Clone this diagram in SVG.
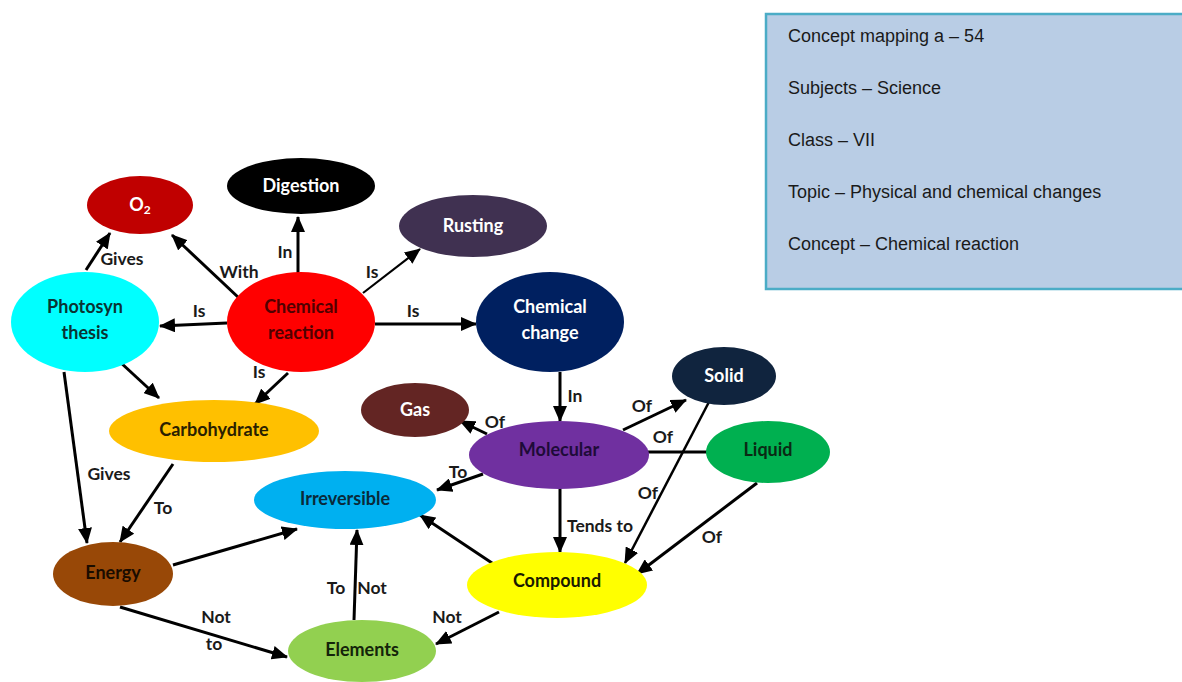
<svg xmlns="http://www.w3.org/2000/svg" width="1182" height="682" viewBox="0 0 1182 682">
<style>
.n{font-family:Lato,"Open Sans",sans-serif;font-weight:bold;font-size:18px;text-anchor:middle}
.w{fill:#ffffff}
.l{font-family:Lato,"Open Sans",sans-serif;font-weight:bold;font-size:17.5px;fill:#1a1a1a;text-anchor:middle}
.c{stroke:#000;stroke-width:3;fill:none}
.a{marker-end:url(#ah)}
.info{font-family:"Liberation Sans",Arial,sans-serif;font-size:18px;fill:#1a1a1a}
</style>
<defs>
<marker id="ah" markerUnits="userSpaceOnUse" viewBox="0 0 16 14" markerWidth="16" markerHeight="14" refX="15" refY="7" orient="auto">
<path d="M0,0 L16,7 L0,14 z" fill="#000"/>
</marker>
</defs>
<rect width="1182" height="682" fill="#ffffff"/>
<g id="infobox">
<rect x="766" y="14" width="430" height="275" fill="#b9cde5" stroke="#4bacc6" stroke-width="2.5"/>
<text class="info" x="788" y="42">Concept mapping a – 54</text>
<text class="info" x="788" y="94">Subjects – Science</text>
<text class="info" x="788" y="146">Class – VII</text>
<text class="info" x="788" y="198">Topic – Physical and chemical changes</text>
<text class="info" x="788" y="250">Concept – Chemical reaction</text>
</g>
<g id="connectors">
<line class="c a" x1="86" y1="270" x2="110" y2="233"/>
<line class="c a" x1="239" y1="298" x2="172" y2="235"/>
<line class="c a" x1="298" y1="273" x2="298" y2="217"/>
<line class="c a" x1="363" y1="293" x2="420" y2="249" style="stroke-width:2.2"/>
<line class="c a" x1="227" y1="323" x2="160" y2="326"/>
<line class="c a" x1="375" y1="324" x2="476" y2="324"/>
<line class="c a" x1="288" y1="373" x2="255" y2="404"/>
<line class="c a" x1="120" y1="362" x2="159" y2="398"/>
<line class="c a" x1="64" y1="372" x2="87" y2="543"/>
<line class="c a" x1="173" y1="464" x2="120" y2="542"/>
<line class="c a" x1="560" y1="372" x2="560" y2="421"/>
<line class="c a" x1="487" y1="434" x2="460" y2="421"/>
<line class="c a" x1="623" y1="430" x2="686" y2="400"/>
<line class="c" x1="646" y1="452" x2="711" y2="452"/>
<line class="c a" x1="483" y1="474" x2="437" y2="490"/>
<line class="c a" x1="560" y1="487" x2="560" y2="552"/>
<line class="c a" x1="710" y1="400" x2="625" y2="563" style="stroke-width:2.5"/>
<line class="c a" x1="757" y1="483" x2="637" y2="574"/>
<line class="c a" x1="495" y1="565" x2="420" y2="515"/>
<line class="c a" x1="499" y1="612" x2="436" y2="644"/>
<line class="c a" x1="354" y1="620" x2="357" y2="530"/>
<line class="c a" x1="173" y1="565" x2="297" y2="529"/>
<line class="c a" x1="120" y1="607" x2="287" y2="657"/>
</g>
<g id="connector-labels">
<text class="l" x="122" y="265">Gives</text>
<text class="l" x="239" y="278">With</text>
<text class="l" x="285" y="258">In</text>
<text class="l" x="372" y="278">Is</text>
<text class="l" x="199" y="317">Is</text>
<text class="l" x="413" y="317">Is</text>
<text class="l" x="259" y="378">Is</text>
<text class="l" x="109" y="480">Gives</text>
<text class="l" x="163" y="514">To</text>
<text class="l" x="575" y="402">In</text>
<text class="l" x="495" y="428">Of</text>
<text class="l" x="642" y="412">Of</text>
<text class="l" x="663" y="443">Of</text>
<text class="l" x="458" y="478">To</text>
<text class="l" x="600" y="532">Tends to</text>
<text class="l" x="648" y="499">Of</text>
<text class="l" x="712" y="543">Of</text>
<text class="l" x="447" y="623">Not</text>
<text class="l" x="336" y="594">To</text>
<text class="l" x="372" y="594">Not</text>
<text class="l" x="216" y="623">Not</text>
<text class="l" x="214" y="650">to</text>
</g>
<g id="o2"><ellipse cx="140" cy="205" rx="53" ry="29" fill="#c00000"/><text class="n w" x="140" y="211">O<tspan font-size="12" dy="3">2</tspan></text></g>
<g id="digestion"><ellipse cx="301" cy="186" rx="74" ry="28" fill="#000000"/><text class="n w" x="301" y="192">Digestion</text></g>
<g id="rusting"><ellipse cx="473" cy="226" rx="74" ry="31" fill="#403151"/><text class="n w" x="473" y="232">Rusting</text></g>
<g id="photosynthesis"><ellipse cx="85" cy="322" rx="74" ry="50" fill="#00ffff"/><text class="n" x="85" y="313" fill="#0a3434">Photosyn</text><text class="n" x="85" y="339" fill="#0a3434">thesis</text></g>
<g id="chemical-reaction"><ellipse cx="301" cy="322" rx="74" ry="50" fill="#ff0000"/><text class="n" x="301" y="313" fill="#500000">Chemical</text><text class="n" x="301" y="339" fill="#500000">reaction</text></g>
<g id="chemical-change"><ellipse cx="550" cy="322" rx="74" ry="50" fill="#002060"/><text class="n w" x="550" y="313">Chemical</text><text class="n w" x="550" y="339">change</text></g>
<g id="solid"><ellipse cx="724" cy="376" rx="52" ry="29" fill="#10243e"/><text class="n w" x="724" y="382">Solid</text></g>
<g id="gas"><ellipse cx="415" cy="410" rx="54" ry="27" fill="#632523"/><text class="n w" x="415" y="416">Gas</text></g>
<g id="carbohydrate"><ellipse cx="214" cy="431" rx="105" ry="31" fill="#ffc000"/><text class="n" x="214" y="436" fill="#2a2000">Carbohydrate</text></g>
<g id="molecular"><ellipse cx="559" cy="455" rx="90" ry="34" fill="#7030a0"/><text class="n" x="559" y="456" fill="#1e0b38">Molecular</text></g>
<g id="liquid"><ellipse cx="768" cy="452" rx="62" ry="31" fill="#00b050"/><text class="n" x="768" y="456" fill="#0a2a14">Liquid</text></g>
<g id="irreversible"><ellipse cx="345" cy="500" rx="91" ry="29" fill="#00b0f0"/><text class="n" x="345" y="505" fill="#0a2a3a">Irreversible</text></g>
<g id="energy"><ellipse cx="113" cy="574" rx="60" ry="32" fill="#984807"/><text class="n" x="113" y="579" fill="#1a0c00">Energy</text></g>
<g id="compound"><ellipse cx="557" cy="585" rx="90" ry="33" fill="#ffff00"/><text class="n" x="557" y="587" fill="#1a1a00">Compound</text></g>
<g id="elements"><ellipse cx="362" cy="651" rx="74" ry="31" fill="#92d050"/><text class="n" x="362" y="656" fill="#14240a">Elements</text></g>
</svg>
